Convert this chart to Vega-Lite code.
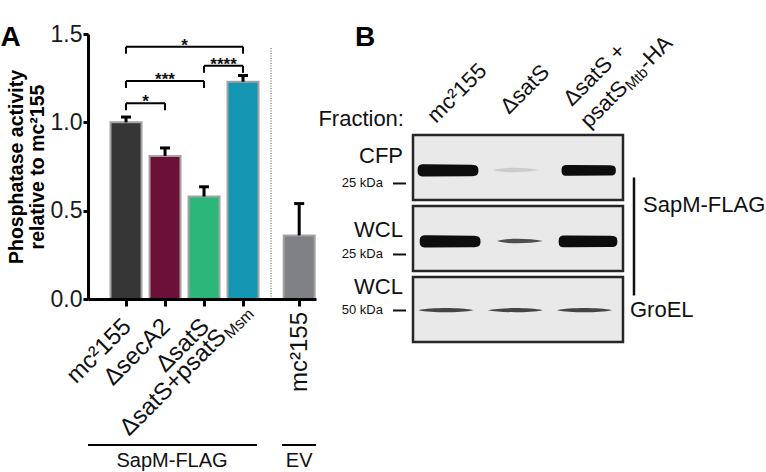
{
  "$schema": "https://vega.github.io/schema/vega-lite/v6.json",
  "width": 228,
  "height": 265,
  "autosize": {"type": "none"},
  "padding": {"left": 88, "top": 34, "right": 450, "bottom": 173},
  "background": "white",
  "config": {"view": {"stroke": null}, "font": "Liberation Sans", "text": {"color": "#111111"}},
  "datasets": {
    "bars": [
      {"strain": "mc²155", "group": "SapM-FLAG", "pos": 1, "mean": 1.0, "upper": 1.03},
      {"strain": "ΔsecA2", "group": "SapM-FLAG", "pos": 2, "mean": 0.81, "upper": 0.855},
      {"strain": "ΔsatS", "group": "SapM-FLAG", "pos": 3, "mean": 0.58, "upper": 0.635},
      {"strain": "ΔsatS+psatS Msm", "group": "SapM-FLAG", "pos": 4, "mean": 1.23, "upper": 1.265},
      {"strain": "mc²155 (EV)", "group": "EV", "pos": 5.44, "mean": 0.36, "upper": 0.54}
    ],
    "sig": [
      {"from": 1, "to": 2, "mid": 1.5, "level": 1.108, "stars": "*"},
      {"from": 1, "to": 3, "mid": 2, "level": 1.234, "stars": "***"},
      {"from": 3, "to": 4, "mid": 3.5, "level": 1.32, "stars": "****"},
      {"from": 1, "to": 4, "mid": 2.5, "level": 1.428, "stars": "*"}
    ],
    "groups": [
      {"group": "SapM-FLAG", "from": 0.025, "to": 4.36, "center": 2.18},
      {"group": "EV", "from": 5.0, "to": 5.871, "center": 5.44}
    ],
    "xlabels": [
      {"pos": 1, "part": "name", "text": "mc²155"},
      {"pos": 2, "part": "name", "text": "ΔsecA2"},
      {"pos": 3, "part": "name", "text": "ΔsatS"},
      {"pos": 4, "part": "main", "text": "ΔsatS+psatS"},
      {"pos": 4, "part": "sub", "text": "Msm"},
      {"pos": 5.44, "part": "vertical", "text": "mc²155"}
    ],
    "blots": [
      {"blot": "CFP-SapM", "fraction": "CFP", "probe": "SapM-FLAG", "marker": "25 kDa"},
      {"blot": "WCL-SapM", "fraction": "WCL", "probe": "SapM-FLAG", "marker": "25 kDa"},
      {"blot": "WCL-GroEL", "fraction": "WCL", "probe": "GroEL", "marker": "50 kDa"}
    ],
    "bands": [
      {"blot": "CFP-SapM", "lane": "mc²155", "pos": 0.5, "amount": 1.0},
      {"blot": "CFP-SapM", "lane": "ΔsatS", "pos": 1.47, "amount": 0.03},
      {"blot": "CFP-SapM", "lane": "ΔsatS + psatS Mtb-HA", "pos": 2.51, "amount": 0.85},
      {"blot": "WCL-SapM", "lane": "mc²155", "pos": 0.53, "amount": 1.0},
      {"blot": "WCL-SapM", "lane": "ΔsatS", "pos": 1.53, "amount": 0.25},
      {"blot": "WCL-SapM", "lane": "ΔsatS + psatS Mtb-HA", "pos": 2.5, "amount": 0.95},
      {"blot": "WCL-GroEL", "lane": "mc²155", "pos": 0.47, "amount": 0.8},
      {"blot": "WCL-GroEL", "lane": "ΔsatS", "pos": 1.46, "amount": 0.75},
      {"blot": "WCL-GroEL", "lane": "ΔsatS + psatS Mtb-HA", "pos": 2.45, "amount": 0.7}
    ],
    "headers": [
      {"lane": 0.5, "piece": "mc²155"},
      {"lane": 1.5, "piece": "ΔsatS"},
      {"lane": 2.5, "piece": "ΔsatS +"},
      {"lane": 2.5, "piece": "psatS"},
      {"lane": 2.5, "piece": "Mtb"},
      {"lane": 2.5, "piece": "-HA"}
    ]
  },
  "layer": [
    {
      "layer": [
        {
          "data": {"name": "bars"},
          "mark": {"type": "bar", "orient": "vertical", "size": 31, "stroke": "#a3a3a3", "strokeWidth": 2, "opacity": 1},
          "encoding": {
            "x": {"field": "pos", "type": "quantitative",
              "scale": {"domain": [0.025, 5.871], "nice": false, "zero": false, "padding": 0},
              "axis": {"values": [1, 2, 3, 4, 5.44], "labels": false, "title": null, "grid": false,
                "domainColor": "black", "domainWidth": 3, "tickColor": "black", "tickWidth": 3, "tickSize": 7, "zindex": 1}},
            "y": {"field": "mean", "type": "quantitative", "stack": null,
              "scale": {"domain": [0, 1.5], "nice": false, "padding": 0},
              "axis": {"values": [0, 0.5, 1, 1.5], "format": ".1f", "labelFontSize": 23, "labelColor": "#1a1a1a", "labelPadding": 1,
                "tickSize": 5, "tickWidth": 3, "tickColor": "black", "domainColor": "black", "domainWidth": 3, "grid": false,
                "title": ["Phosphatase activity", "relative to mc²155"], "titleFontSize": 19.5, "titleFontWeight": "bold",
                "titleColor": "black", "titlePadding": 3, "titleLineHeight": 21, "zindex": 1}},
            "color": {"field": "strain", "type": "nominal",
              "scale": {"domain": ["mc²155", "ΔsecA2", "ΔsatS", "ΔsatS+psatS Msm", "mc²155 (EV)"],
                "range": ["#363636", "#6c1039", "#2cb67a", "#1496b2", "#808184"]}, "legend": null}
          }
        },
        {
          "data": {"name": "bars"},
          "mark": {"type": "rule", "strokeWidth": 3, "color": "black"},
          "encoding": {
            "x": {"field": "pos", "type": "quantitative"},
            "y": {"field": "mean", "type": "quantitative"},
            "y2": {"field": "upper"}
          }
        },
        {
          "data": {"name": "bars"},
          "mark": {"type": "tick", "orient": "horizontal", "size": 10, "thickness": 3, "color": "black", "opacity": 1},
          "encoding": {
            "x": {"field": "pos", "type": "quantitative"},
            "y": {"field": "upper", "type": "quantitative"}
          }
        },
        {
          "data": {"name": "sig"},
          "mark": {"type": "rule", "strokeWidth": 2, "color": "black"},
          "encoding": {
            "x": {"field": "from", "type": "quantitative"},
            "x2": {"field": "to"},
            "y": {"field": "level", "type": "quantitative"}
          }
        },
        {
          "data": {"name": "sig"},
          "mark": {"type": "tick", "orient": "vertical", "size": 7, "thickness": 2, "yOffset": 3.5, "color": "black", "opacity": 1},
          "encoding": {
            "x": {"field": "from", "type": "quantitative"},
            "y": {"field": "level", "type": "quantitative"}
          }
        },
        {
          "data": {"name": "sig"},
          "mark": {"type": "tick", "orient": "vertical", "size": 7, "thickness": 2, "yOffset": 3.5, "color": "black", "opacity": 1},
          "encoding": {
            "x": {"field": "to", "type": "quantitative"},
            "y": {"field": "level", "type": "quantitative"}
          }
        },
        {
          "data": {"name": "sig"},
          "mark": {"type": "text", "fontSize": 17, "fontWeight": "bold", "dy": 4, "baseline": "alphabetic", "align": "center"},
          "encoding": {
            "x": {"field": "mid", "type": "quantitative"},
            "y": {"field": "level", "type": "quantitative"},
            "text": {"field": "stars"}
          }
        },
        {
          "data": {"values": [{"divider": "SapM-FLAG | EV"}]},
          "mark": {"type": "rule", "strokeWidth": 1, "color": "#555555", "strokeDash": [1, 1.5]},
          "encoding": {
            "x": {"datum": 4.717, "type": "quantitative"},
            "y": {"datum": 0, "type": "quantitative"},
            "y2": {"datum": 1.428}
          }
        },
        {
          "data": {"name": "groups"},
          "mark": {"type": "rule", "strokeWidth": 2, "color": "black"},
          "encoding": {
            "x": {"field": "from", "type": "quantitative"},
            "x2": {"field": "to"},
            "y": {"datum": -0.826, "type": "quantitative"}
          }
        },
        {
          "data": {"name": "groups"},
          "mark": {"type": "text", "fontSize": 20, "align": "center", "baseline": "alphabetic"},
          "encoding": {
            "x": {"field": "center", "type": "quantitative"},
            "y": {"datum": -0.951, "type": "quantitative"},
            "text": {"field": "group"}
          }
        },
        {
          "data": {"values": [{"panel": "A"}]},
          "mark": {"type": "text", "fontSize": 28, "fontWeight": "bold", "align": "left", "baseline": "alphabetic", "color": "black"},
          "encoding": {
            "x": {"datum": -2.22, "type": "quantitative"},
            "y": {"datum": 1.432, "type": "quantitative"},
            "text": {"field": "panel"}
          }
        },
        {
          "data": {"name": "xlabels"},
          "transform": [{"filter": "datum.part == 'name'"}],
          "mark": {"type": "text", "fontSize": 24, "angle": -45, "align": "right", "baseline": "alphabetic", "dx": -15.9, "dy": 25.1},
          "encoding": {"x": {"field": "pos", "type": "quantitative"}, "y": {"datum": 0, "type": "quantitative"}, "text": {"field": "text"}}
        },
        {
          "data": {"name": "xlabels"},
          "transform": [{"filter": "datum.part == 'main'"}],
          "mark": {"type": "text", "fontSize": 24, "angle": -45, "align": "right", "baseline": "alphabetic", "dx": -38.5, "dy": 16.8},
          "encoding": {"x": {"field": "pos", "type": "quantitative"}, "y": {"datum": 0, "type": "quantitative"}, "text": {"field": "text"}}
        },
        {
          "data": {"name": "xlabels"},
          "transform": [{"filter": "datum.part == 'sub'"}],
          "mark": {"type": "text", "fontSize": 16, "angle": -45, "align": "left", "baseline": "alphabetic", "dx": -37.5, "dy": 19.8},
          "encoding": {"x": {"field": "pos", "type": "quantitative"}, "y": {"datum": 0, "type": "quantitative"}, "text": {"field": "text"}}
        },
        {
          "data": {"name": "xlabels"},
          "transform": [{"filter": "datum.part == 'vertical'"}],
          "mark": {"type": "text", "fontSize": 24, "angle": -90, "align": "right", "baseline": "alphabetic", "dx": -13, "dy": 8},
          "encoding": {"x": {"field": "pos", "type": "quantitative"}, "y": {"datum": 0, "type": "quantitative"}, "text": {"field": "text"}}
        }
      ]
    },
    {
      "layer": [
        {
          "data": {"name": "blots"},
          "mark": {"type": "rect", "fill": "#e9e9e9", "stroke": "#262626", "strokeWidth": 2.5},
          "encoding": {
            "x": {"datum": 0, "type": "quantitative", "scale": {"domain": [0, 3], "range": [325, 535], "nice": false, "zero": false, "padding": 0}, "axis": null},
            "x2": {"datum": 3},
            "y": {"field": "blot", "type": "nominal", "axis": null,
              "scale": {"type": "band", "domain": ["CFP-SapM", "WCL-SapM", "WCL-GroEL"], "range": [101, 308], "paddingInner": 0.085, "paddingOuter": 0}}
          }
        },
        {
          "data": {"name": "bands"},
          "transform": [{"filter": "datum.amount >= 0.5 && datum.blot != 'WCL-GroEL'"}],
          "mark": {"type": "point", "shape": "M-1,0 C-1,-0.2 -0.9,-0.2 -0.72,-0.2 L0.72,-0.19 C0.92,-0.19 1,-0.17 1,0 C1,0.17 0.92,0.19 0.72,0.19 L-0.72,0.2 C-0.9,0.2 -1,0.2 -1,0 Z",
            "filled": true, "color": "#0d0d0d", "opacity": 1, "strokeWidth": 0},
          "encoding": {
            "x": {"field": "pos", "type": "quantitative", "axis": null},
            "y": {"field": "blot", "type": "nominal", "bandPosition": 0.545, "axis": null},
            "size": {"field": "amount", "type": "quantitative", "scale": {"domain": [0.8, 1], "range": [2700, 3700]}, "legend": null}
          }
        },
        {
          "data": {"name": "bands"},
          "transform": [{"filter": "datum.amount < 0.5"}],
          "mark": {"type": "point", "shape": "M-1,0 C-0.6,-0.14 0.4,-0.12 1,0 C0.4,0.12 -0.6,0.14 -1,0 Z",
            "filled": true, "color": "#111111", "size": 2100, "strokeWidth": 0},
          "encoding": {
            "x": {"field": "pos", "type": "quantitative", "axis": null},
            "y": {"field": "blot", "type": "nominal", "bandPosition": 0.54, "axis": null},
            "opacity": {"field": "amount", "type": "quantitative", "scale": {"domain": [0, 0.3], "range": [0.05, 0.85]}, "legend": null}
          }
        },
        {
          "data": {"name": "bands"},
          "transform": [{"filter": "datum.blot == 'WCL-GroEL'"}],
          "mark": {"type": "point", "shape": "M-1,0 C-0.5,-0.1 0.5,-0.1 1,0 C0.5,0.1 -0.5,0.1 -1,0 Z",
            "filled": true, "color": "#333333", "size": 3025, "opacity": 0.9, "strokeWidth": 0},
          "encoding": {
            "x": {"field": "pos", "type": "quantitative", "axis": null},
            "y": {"field": "blot", "type": "nominal", "bandPosition": 0.51, "axis": null}
          }
        },
        {
          "data": {"name": "blots"},
          "transform": [{"filter": "datum.blot == 'CFP-SapM'"}],
          "mark": {"type": "text", "fontSize": 22, "align": "right", "baseline": "alphabetic"},
          "encoding": {
            "x": {"datum": -0.143, "type": "quantitative"},
            "y": {"field": "blot", "type": "nominal", "bandPosition": 0.43, "axis": null},
            "text": {"field": "fraction"}
          }
        },
        {
          "data": {"name": "blots"},
          "transform": [{"filter": "datum.blot == 'WCL-SapM'"}],
          "mark": {"type": "text", "fontSize": 22, "align": "right", "baseline": "alphabetic"},
          "encoding": {
            "x": {"datum": -0.143, "type": "quantitative"},
            "y": {"field": "blot", "type": "nominal", "bandPosition": 0.477, "axis": null},
            "text": {"field": "fraction"}
          }
        },
        {
          "data": {"name": "blots"},
          "transform": [{"filter": "datum.blot == 'WCL-GroEL'"}],
          "mark": {"type": "text", "fontSize": 22, "align": "right", "baseline": "alphabetic"},
          "encoding": {
            "x": {"datum": -0.143, "type": "quantitative"},
            "y": {"field": "blot", "type": "nominal", "bandPosition": 0.26, "axis": null},
            "text": {"field": "fraction"}
          }
        },
        {
          "data": {"name": "blots"},
          "transform": [{"filter": "datum.probe == 'SapM-FLAG'"}],
          "mark": {"type": "text", "fontSize": 13, "align": "right", "baseline": "middle"},
          "encoding": {
            "x": {"datum": -0.43, "type": "quantitative"},
            "y": {"field": "blot", "type": "nominal", "bandPosition": 0.746, "axis": null},
            "text": {"field": "marker"}
          }
        },
        {
          "data": {"name": "blots"},
          "transform": [{"filter": "datum.probe == 'GroEL'"}],
          "mark": {"type": "text", "fontSize": 13, "align": "right", "baseline": "middle"},
          "encoding": {
            "x": {"datum": -0.43, "type": "quantitative"},
            "y": {"field": "blot", "type": "nominal", "bandPosition": 0.515, "axis": null},
            "text": {"field": "marker"}
          }
        },
        {
          "data": {"name": "blots"},
          "transform": [{"filter": "datum.probe == 'SapM-FLAG'"}],
          "mark": {"type": "tick", "orient": "horizontal", "size": 13, "thickness": 2, "color": "#111111", "opacity": 1},
          "encoding": {
            "x": {"datum": -0.193, "type": "quantitative"},
            "y": {"field": "blot", "type": "nominal", "bandPosition": 0.746, "axis": null}
          }
        },
        {
          "data": {"name": "blots"},
          "transform": [{"filter": "datum.probe == 'GroEL'"}],
          "mark": {"type": "tick", "orient": "horizontal", "size": 13, "thickness": 2, "color": "#111111", "opacity": 1},
          "encoding": {
            "x": {"datum": -0.193, "type": "quantitative"},
            "y": {"field": "blot", "type": "nominal", "bandPosition": 0.515, "axis": null}
          }
        },
        {
          "data": {"name": "blots"},
          "transform": [{"filter": "datum.blot == 'WCL-SapM'"}],
          "mark": {"type": "tick", "orient": "vertical", "size": 118, "thickness": 2.5, "yOffset": -2, "color": "#111111", "opacity": 1},
          "encoding": {
            "x": {"datum": 3.157, "type": "quantitative"},
            "y": {"field": "blot", "type": "nominal", "bandPosition": 0, "axis": null}
          }
        },
        {
          "data": {"name": "blots"},
          "transform": [{"filter": "datum.blot == 'WCL-SapM'"}],
          "mark": {"type": "text", "fontSize": 22, "align": "left", "baseline": "middle", "dy": -1},
          "encoding": {
            "x": {"datum": 3.286, "type": "quantitative"},
            "y": {"field": "blot", "type": "nominal", "bandPosition": 0, "axis": null},
            "text": {"field": "probe"}
          }
        },
        {
          "data": {"name": "blots"},
          "transform": [{"filter": "datum.blot == 'WCL-GroEL'"}],
          "mark": {"type": "text", "fontSize": 22, "align": "left", "baseline": "middle"},
          "encoding": {
            "x": {"datum": 3.1, "type": "quantitative"},
            "y": {"field": "blot", "type": "nominal", "bandPosition": 0.51, "axis": null},
            "text": {"field": "probe"}
          }
        },
        {
          "data": {"name": "blots"},
          "transform": [{"filter": "datum.blot == 'CFP-SapM'"}],
          "mark": {"type": "text", "fontSize": 28, "fontWeight": "bold", "align": "left", "baseline": "alphabetic", "dy": -89, "color": "black"},
          "encoding": {
            "x": {"datum": -0.829, "type": "quantitative"},
            "y": {"field": "blot", "type": "nominal", "bandPosition": 0, "axis": null},
            "text": {"value": "B"}
          }
        },
        {
          "data": {"name": "blots"},
          "transform": [{"filter": "datum.blot == 'CFP-SapM'"}],
          "mark": {"type": "text", "fontSize": 22, "align": "right", "baseline": "alphabetic", "dy": -9},
          "encoding": {
            "x": {"datum": -0.129, "type": "quantitative"},
            "y": {"field": "blot", "type": "nominal", "bandPosition": 0, "axis": null},
            "text": {"value": "Fraction:"}
          }
        },
        {
          "data": {"name": "headers"},
          "transform": [{"filter": "datum.lane == 0.5"}],
          "mark": {"type": "text", "fontSize": 22, "angle": -45, "align": "left", "baseline": "alphabetic", "dx": -0.7, "dy": -16.3},
          "encoding": {
            "x": {"field": "lane", "type": "quantitative"},
            "y": {"datum": "CFP-SapM", "type": "nominal", "bandPosition": 0},
            "text": {"field": "piece"}
          }
        },
        {
          "data": {"name": "headers"},
          "transform": [{"filter": "datum.lane == 1.5"}],
          "mark": {"type": "text", "fontSize": 22, "angle": -45, "align": "left", "baseline": "alphabetic", "dx": 7.8, "dy": -20.5},
          "encoding": {
            "x": {"field": "lane", "type": "quantitative"},
            "y": {"datum": "CFP-SapM", "type": "nominal", "bandPosition": 0},
            "text": {"field": "piece"}
          }
        },
        {
          "data": {"name": "headers"},
          "transform": [{"filter": "datum.lane == 2.5 && datum.piece == 'ΔsatS +'"}],
          "mark": {"type": "text", "fontSize": 22, "angle": -45, "align": "left", "baseline": "alphabetic", "dx": 8.5, "dy": -31.1},
          "encoding": {
            "x": {"field": "lane", "type": "quantitative"},
            "y": {"datum": "CFP-SapM", "type": "nominal", "bandPosition": 0},
            "text": {"field": "piece"}
          }
        },
        {
          "data": {"name": "headers"},
          "transform": [{"filter": "datum.lane == 2.5 && datum.piece == 'psatS'"}],
          "mark": {"type": "text", "fontSize": 22, "angle": -45, "align": "left", "baseline": "alphabetic", "dx": 4.9, "dy": -3.5},
          "encoding": {
            "x": {"field": "lane", "type": "quantitative"},
            "y": {"datum": "CFP-SapM", "type": "nominal", "bandPosition": 0},
            "text": {"field": "piece"}
          }
        },
        {
          "data": {"name": "headers"},
          "transform": [{"filter": "datum.lane == 2.5 && datum.piece == 'Mtb'"}],
          "mark": {"type": "text", "fontSize": 15, "angle": -45, "align": "left", "baseline": "alphabetic", "dx": 61.7, "dy": -0.5},
          "encoding": {
            "x": {"field": "lane", "type": "quantitative"},
            "y": {"datum": "CFP-SapM", "type": "nominal", "bandPosition": 0},
            "text": {"field": "piece"}
          }
        },
        {
          "data": {"name": "headers"},
          "transform": [{"filter": "datum.lane == 2.5 && datum.piece == '-HA'"}],
          "mark": {"type": "text", "fontSize": 22, "angle": -45, "align": "left", "baseline": "alphabetic", "dx": 86.7, "dy": -3.5},
          "encoding": {
            "x": {"field": "lane", "type": "quantitative"},
            "y": {"datum": "CFP-SapM", "type": "nominal", "bandPosition": 0},
            "text": {"field": "piece"}
          }
        }
      ]
    }
  ],
  "resolve": {"scale": {"x": "independent", "y": "independent", "size": "independent", "opacity": "independent", "color": "independent"}}
}
